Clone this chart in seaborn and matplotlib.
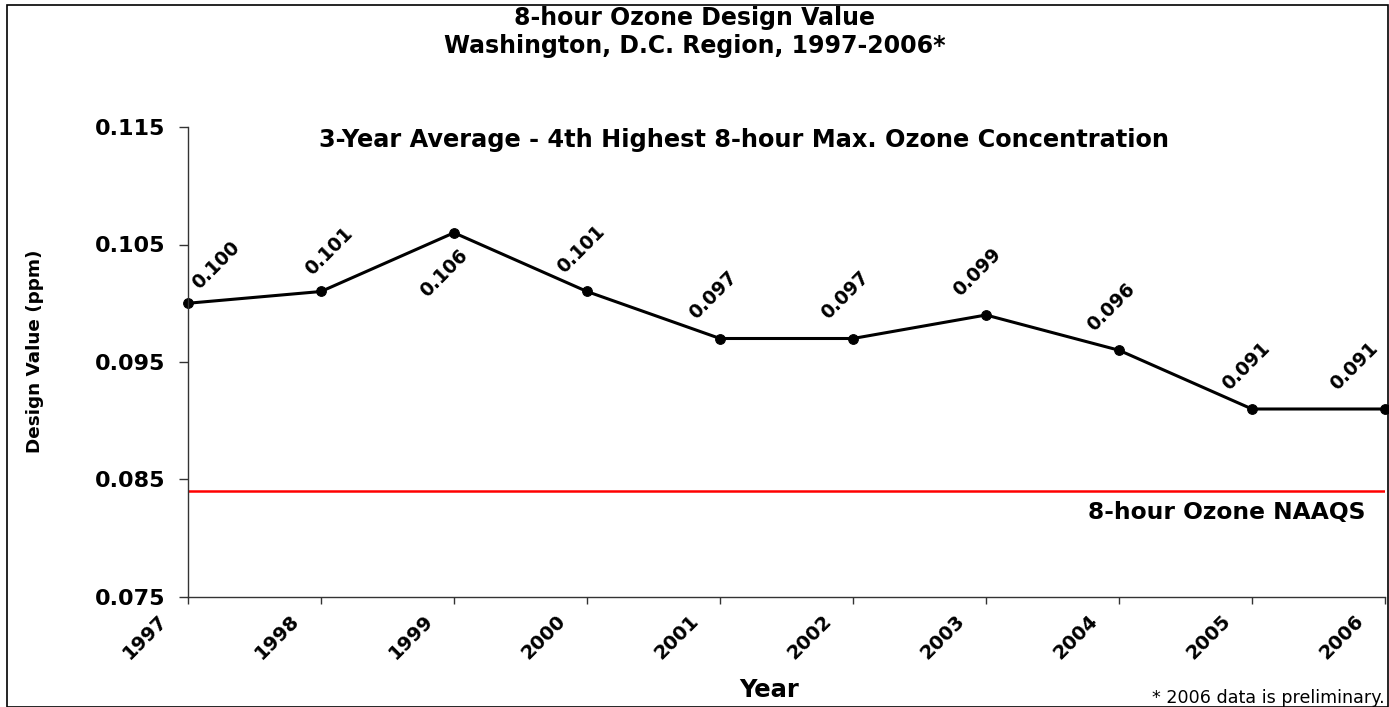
import matplotlib
matplotlib.use("Agg")
import matplotlib.pyplot as plt
import matplotlib.transforms as mtransforms
from matplotlib.patches import Rectangle
import seaborn as sns
import pandas as pd

years = [1997, 1998, 1999, 2000, 2001, 2002, 2003, 2004, 2005, 2006]
design_values = [0.100, 0.101, 0.106, 0.101, 0.097, 0.097, 0.099, 0.096, 0.091, 0.091]
naaqs = 0.084
y_ticks = [0.075, 0.085, 0.095, 0.105, 0.115]
title_text = "8-hour Ozone Design Value\nWashington, D.C. Region, 1997-2006*"
subtitle_text = "3-Year Average - 4th Highest 8-hour Max. Ozone Concentration"
naaqs_label = "8-hour Ozone NAAQS"
x_label = "Year"
y_label = "Design Value (ppm)"
footnote = "* 2006 data is preliminary."

sns.set_theme(style="white")
plt.rcParams['font.family'] = ['DejaVu Sans']
for k in ["text.color", "axes.labelcolor", "xtick.color", "ytick.color"]:
    plt.rcParams[k] = "black"

W, H = 1389, 707
fig = plt.figure(figsize=(W / 100, H / 100), dpi=100)
fig.patch.set_facecolor("white")

ax = fig.add_axes([188 / W, 1 - 597 / H, (1385 - 188) / W, (597 - 127) / H])
ax.set_facecolor("white")

df = pd.DataFrame({"year": years, "value": design_values})
sns.lineplot(data=df, x="year", y="value", ax=ax, color="black", linewidth=2.2,
             marker="o", markersize=7, markeredgecolor="black", markerfacecolor="black")
for l in ax.lines:
    l.set_clip_on(False)

ax.axhline(naaqs, color="#FF0000", linewidth=1.8, zorder=1)

ax.set_xlim(1997, 2006)
ax.set_ylim(0.075, 0.115)
ax.set_xticks(years)
ax.set_xticklabels([str(y) for y in years])
ax.set_yticks(y_ticks)
ax.set_yticklabels([f"{v:.3f}" for v in y_ticks])

for s in ["top", "right"]:
    ax.spines[s].set_visible(False)
for s in ["left", "bottom"]:
    ax.spines[s].set_color("#333333")
    ax.spines[s].set_linewidth(1.0)

ax.tick_params(axis="y", which="major", direction="out", length=6.5, width=1.0,
               color="#333333", labelcolor="black", left=True, pad=10, labelsize=16)
ax.tick_params(axis="x", which="major", direction="out", length=5, width=1.0,
               color="#333333", labelcolor="black", bottom=True, pad=5, labelsize=14)
for lab in ax.get_yticklabels():
    lab.set_fontweight("bold")
offset = mtransforms.ScaledTranslation(-0.31, 0, fig.dpi_scale_trans)
for lab in ax.get_xticklabels():
    lab.set_fontweight("bold")
    lab.set_rotation(45)
    lab.set_ha("right")
    lab.set_va("top")
    lab.set_rotation_mode("anchor")
    lab.set_transform(lab.get_transform() + offset)

ax.set_xlabel("")
ax.set_ylabel("")

# data label offsets in pixels (style, not data)
label_offsets = [(28, 38), (8, 40), (-10, -41), (-6, 42), (-7, 43),
                 (-8, 43), (-9, 43), (-8, 43), (-6, 43), (-31, 43)]
for x, v, (dx, dy) in zip(years, design_values, label_offsets):
    ax.annotate(f"{v:.3f}", xy=(x, v), xytext=(dx, dy), textcoords="offset pixels",
                ha="center", va="center", rotation=45, fontsize=13.5, fontweight="bold",
                color="black", annotation_clip=False)

def fx(px):
    return px / W

def fy(py):
    return 1 - py / H

fig.text(fx(695), fy(32), title_text, ha="center", va="center", fontsize=17,
         fontweight="bold", linespacing=1.2)
fig.text(fx(744), fy(140), subtitle_text, ha="center", va="center", fontsize=17.3,
         fontweight="bold")
fig.text(fx(1365), fy(513), naaqs_label, ha="right", va="center", fontsize=16.8,
         fontweight="bold")
fig.text(fx(769), fy(690), x_label, ha="center", va="center", fontsize=17.5,
         fontweight="bold")
fig.text(fx(35), fy(351), y_label, ha="center", va="center", fontsize=13.2,
         fontweight="bold", rotation=90)
fig.text(fx(1385), fy(698), footnote, ha="right", va="center", fontsize=12.6)

fig.patches.append(Rectangle((7 / W, 0.0), (1387.5 - 7) / W, 1 - 5 / H,
                             transform=fig.transFigure, fill=False,
                             edgecolor="black", linewidth=1.2, zorder=10))

fig.savefig("out.png", dpi=100, facecolor="white")
